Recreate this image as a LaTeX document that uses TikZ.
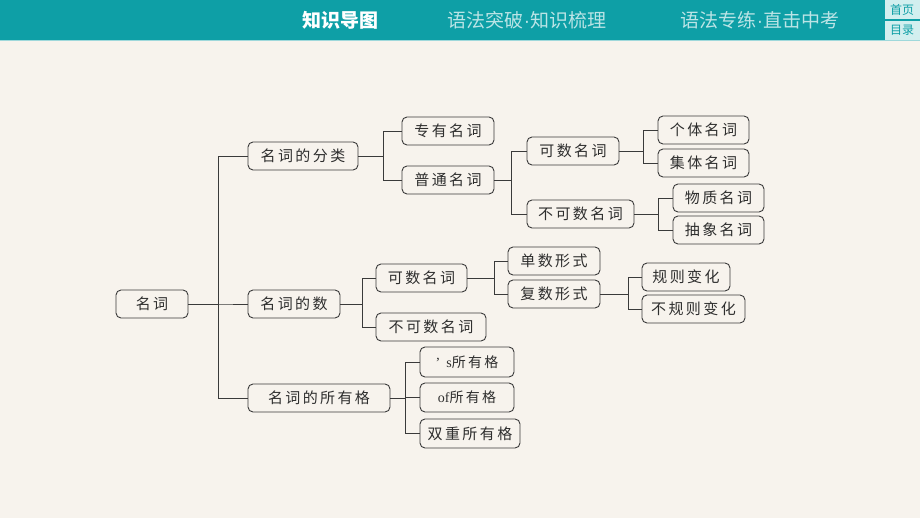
\documentclass[tikz,border=0pt]{standalone}
\usepackage{fontspec}
\setmainfont{Liberation Serif}
\newfontfamily\cjk[LetterSpace=16]{Noto Sans CJK SC}
\newfontfamily\cjkbar{Noto Sans CJK SC}
\newfontfamily\dotfont{Liberation Sans}
\usepackage{tikz}
\usetikzlibrary{calc}
\definecolor{barteal}{HTML}{0E9FA6}
\definecolor{barlight}{HTML}{D2EFEF}
\definecolor{bgpaper}{HTML}{F7F3ED}
\definecolor{boxline}{HTML}{3A3A3A}
\newcommand{\middot}{{\dotfont\fontsize{19}{21}\selectfont·}}

\begin{document}
\begin{tikzpicture}[x=1pt, y=-1pt,
    box/.style={draw=boxline, line width=0.9pt, rounded corners=5pt,
      minimum height=28pt, inner sep=0pt, font=\cjk\fontsize{15}{17}\selectfont,
      text=black!82},
    link/.style={draw=boxline, line width=0.9pt},
    bartext/.style={font=\cjkbar\fontsize{19}{21}\selectfont, text=white!72!barteal}]
  % background and top bar
  \fill[bgpaper] (0,0) rectangle (920,518);
  \useasboundingbox (0,0) rectangle (920,518);
  \fill[barteal] (0,0) rectangle (920,40);
  \draw[white!60!barteal, line width=0.8pt] (0,40.5) -- (920,40.5);
  \fill[barlight] (885,0) rectangle (920,19.5);
  \fill[barlight] (885,21) rectangle (920,40);
  \node[font=\cjkbar\bfseries\fontsize{19}{21}\selectfont, text=white] (map) at (340,20) {知识导图};
  \node[bartext] (tab1) at (527,20) {语法突破\middot 知识梳理};
  \node[bartext] (tab2) at (760,20) {语法专练\middot 直击中考};
  \node[font=\cjkbar\fontsize{12}{13}\selectfont, text=barteal] (home) at (902,9.5) {首页};
  \node[font=\cjkbar\fontsize{12}{13}\selectfont, text=barteal] (menu) at (902,30.5) {目录};

  % root
  \node[box, minimum width=72pt] (noun) at (152,304) {名词};

  % level 1
  \node[box, minimum width=110pt] (kind) at (303,156) {名词的分类};
  \node[box, minimum width=92pt] (num) at (294,304) {名词的数};
  \node[box, minimum width=142pt] (poss) at (319,398) {名词的所有格};

  % 名词的分类
  \node[box, minimum width=92pt] (proper) at (448,131) {专有名词};
  \node[box, minimum width=92pt] (common) at (448,180) {普通名词};
  \node[box, minimum width=92pt] (count) at (573,151) {可数名词};
  \node[box, minimum width=107pt] (uncount) at (580.5,214) {不可数名词};
  \node[box, minimum width=91pt] (indiv) at (703.5,130) {个体名词};
  \node[box, minimum width=91pt] (collect) at (703.5,163) {集体名词};
  \node[box, minimum width=91pt] (matter) at (718.5,198) {物质名词};
  \node[box, minimum width=91pt] (abstract) at (718.5,230) {抽象名词};

  % 名词的数
  \node[box, minimum width=91pt] (countb) at (421.5,278) {可数名词};
  \node[box, minimum width=110pt] (uncountb) at (431,327) {不可数名词};
  \node[box, minimum width=92pt] (single) at (554,261) {单数形式};
  \node[box, minimum width=92pt] (plural) at (554,294) {复数形式};
  \node[box, minimum width=88pt] (regular) at (686,277) {规则变化};
  \node[box, minimum width=103pt] (irregular) at (693.5,309) {不规则变化};

  % 名词的所有格
  \node[box, minimum width=94pt, minimum height=30pt] (sposs) at (467,362)
    {\fontspec{Liberation Serif}\fontsize{14}{16}\selectfont ’\hspace{6pt}s\cjk 所有格};
  \node[box, minimum width=94pt, minimum height=29pt] (ofposs) at (467,397.5)
    {\fontspec{Liberation Serif}\fontsize{14}{16}\selectfont of\cjk 所有格};
  \node[box, minimum width=100pt, minimum height=29pt] (double) at (470,433.5) {双重所有格};

  % connectors
  \foreach \from/\gap/\to in {noun/30/kind, noun/30/num, noun/30/poss,
      kind/25/proper, kind/25/common,
      common/17/count, common/17/uncount,
      count/24/indiv, count/24/collect,
      uncount/24/matter, uncount/24/abstract,
      num/22/countb, num/22/uncountb,
      countb/27/single, countb/27/plural,
      plural/28/regular, plural/28/irregular,
      poss/15/sposs, poss/15/ofposs, poss/15/double}
    \draw[link] (\from.east) -- ++(\gap,0) |- (\to.west);
\end{tikzpicture}
\end{document}
